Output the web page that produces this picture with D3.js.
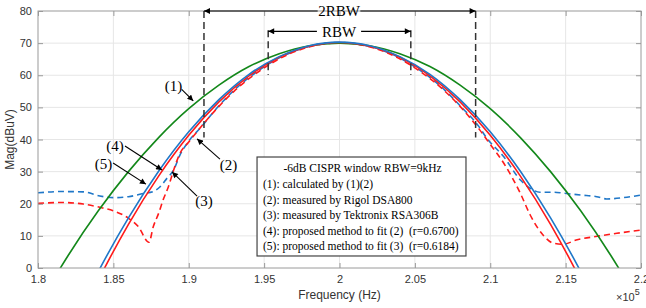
<!DOCTYPE html>
<meta charset="utf-8" />
<script src="https://cdn.jsdelivr.net/npm/d3@7"></script>
<html>
<head>
<style>
  body { margin: 0; background: #fff; }
  .tick text { font-family: "Liberation Sans", Arial, sans-serif; font-size: 11px; fill: #333; }
  .note { font-family: "Liberation Serif", "Times New Roman", serif; fill: #000; white-space: pre; }
</style>
</head>
<body>
<script>
// frequency axis in units of 1e5 Hz
const solidFreq = [1.80, 1.82, 1.84, 1.86, 1.88, 1.90, 1.92, 1.94, 1.96, 1.98, 2.00,
                   2.02, 2.04, 2.06, 2.08, 2.10, 2.12, 2.14, 2.16, 2.18, 2.20];
// (1) calculated
const calcMag = [-11.6, 3.9, 17.8, 30.0, 40.6, 49.6, 56.9, 62.7, 66.7, 69.2, 70.0,
                 69.2, 66.7, 62.7, 56.9, 49.6, 40.6, 30.0, 17.8, 3.9, -11.6];
// (4) fit to Rigol
const fitRigolMag = [-45.4, -23.4, -3.8, 13.6, 28.6, 41.3, 51.7, 59.8, 65.6, 69.0, 70.2,
                     69.0, 65.6, 59.8, 51.7, 41.3, 28.6, 13.6, -3.8, -23.4, -45.4];
// (5) fit to Tektronix
const fitTekMag = [-41.3, -20.1, -1.1, 15.6, 30.1, 42.4, 52.4, 60.3, 65.8, 69.2, 70.3,
                   69.2, 65.8, 60.3, 52.4, 42.4, 30.1, 15.6, -1.1, -20.1, -41.3];

// (2) measured, Rigol DSA800
const rigolFreq = [1.80, 1.815, 1.83, 1.841, 1.85, 1.86, 1.8665, 1.8736, 1.8765, 1.88, 1.883,
                   1.8865, 1.89, 1.894, 1.90, 1.91, 1.92, 1.93, 1.95, 1.97, 2.00, 2.03, 2.05,
                   2.07, 2.08, 2.093, 2.10, 2.109, 2.12, 2.1265, 2.135, 2.142, 2.1485, 2.157,
                   2.17, 2.184, 2.20];
const rigolMag = [20.1, 20.4, 19.9, 18.9, 17.8, 15.5, 12.9, 8.0, 12.9, 17.0, 21.2,
                  25.3, 30.5, 35.5, 39.2, 45.0, 50.3, 55.0, 62.3, 67.3, 70.1, 67.3, 62.3,
                  55.0, 50.3, 43.0, 38.5, 32.6, 23.2, 16.5, 10.3, 7.7, 7.4, 8.7,
                  9.8, 10.8, 11.8];

// (3) measured, Tektronix RSA306B
const tekFreq = [1.80, 1.815, 1.83, 1.841, 1.85, 1.86, 1.87, 1.8765, 1.881, 1.8855, 1.89,
                 1.894, 1.90, 1.9075, 1.92, 1.93, 1.95, 1.97, 2.00, 2.03, 2.05, 2.07, 2.08,
                 2.0925, 2.0976, 2.109, 2.12, 2.1265, 2.133, 2.142, 2.1485, 2.16, 2.1706,
                 2.1773, 2.1883, 2.20];
const tekMag = [23.4, 23.8, 23.7, 22.4, 21.9, 22.2, 23.2, 23.8, 25.3, 27.9, 30.5,
                35.0, 39.5, 43.5, 50.5, 55.3, 62.6, 67.5, 70.2, 67.5, 62.6, 55.3, 50.5,
                44.0, 40.5, 34.6, 27.4, 24.8, 23.6, 23.6, 23.3, 22.7, 22.2,
                21.5, 21.9, 22.7];

const xTicks = [1.8, 1.85, 1.9, 1.95, 2, 2.05, 2.1, 2.15, 2.2];
const yTicks = [0, 10, 20, 30, 40, 50, 60, 70, 80];

const legendTitle = "-6dB CISPR window RBW=9kHz";
const legendLines = [
  "(1): calculated by (1)(2)",
  "(2): measured by Rigol DSA800",
  "(3): measured by Tektronix RSA306B",
  "(4): proposed method to fit (2)  (r=0.6700)",
  "(5): proposed method to fit (3)  (r=0.6184)"
];

// callouts: label position and arrow [from f, from v, to f, to v] in data units
const callouts = [
  { t: "(1)", f: 1.8899, v: 56.7, a: [1.8953, 55.6, 1.9030, 52.0] },
  { t: "(4)", f: 1.8511, v: 38.0, a: [1.8577, 38.0, 1.8823, 30.5] },
  { t: "(5)", f: 1.8434, v: 32.4, a: [1.8498, 32.7, 1.8716, 26.1] },
  { t: "(3)", f: 1.9101, v: 20.9, a: [1.9055, 22.4, 1.8889, 29.9] },
  { t: "(2)", f: 1.9264, v: 32.1, a: [1.9207, 33.9, 1.9055, 40.2] }
];
// bandwidth markers: [left f, right f, top v, bottom v, label]
const bands = [
  [1.9101, 2.0903, 80, 40.6, "2RBW"],
  [1.9527, 2.0473, 74.0, 60.1, "RBW"]
];

const width = 646, height = 308;
const pLeft = 38, pRight = 641, pTop = 11, pBottom = 268;

const svg = d3.select("body").append("svg")
  .attr("width", width).attr("height", height);

const x = d3.scaleLinear().domain([1.8, 2.2]).range([pLeft, pRight]);
const y = d3.scaleLinear().domain([0, 80]).range([pBottom, pTop]);

const defs = svg.append("defs");
defs.append("clipPath").attr("id", "clip")
  .append("rect").attr("x", pLeft).attr("y", pTop)
  .attr("width", pRight - pLeft).attr("height", pBottom - pTop);

const arrow = defs.append("marker")
  .attr("id", "arr").attr("viewBox", "0 0 10 10")
  .attr("refX", 10).attr("refY", 5)
  .attr("markerWidth", 7).attr("markerHeight", 6)
  .attr("markerUnits", "userSpaceOnUse")
  .attr("orient", "auto");
arrow.append("path").attr("d", "M0,0L10,5L0,10Z").attr("fill", "#000");

// grid
svg.append("g").selectAll("line").data(xTicks.slice(1, -1)).enter().append("line")
  .attr("x1", d => x(d)).attr("x2", d => x(d)).attr("y1", pTop).attr("y2", pBottom)
  .attr("stroke", "#e6e6e6");
svg.append("g").selectAll("line").data(yTicks.slice(1, -1)).enter().append("line")
  .attr("y1", d => y(d)).attr("y2", d => y(d)).attr("x1", pLeft).attr("x2", pRight)
  .attr("stroke", "#e6e6e6");

// curves
const plot = svg.append("g").attr("clip-path", "url(#clip)");
const smooth = d3.line().x(d => x(d[0])).y(d => y(d[1])).curve(d3.curveNatural);
const meas = d3.line().x(d => x(d[0])).y(d => y(d[1])).curve(d3.curveMonotoneX);

const series = [
  { f: tekFreq, m: tekMag, c: "#1f77c8", dash: "6,4", line: meas },
  { f: rigolFreq, m: rigolMag, c: "#ff1a1a", dash: "6,4", line: meas },
  { f: solidFreq, m: calcMag, c: "#13881a", dash: null, line: smooth },
  { f: solidFreq, m: fitRigolMag, c: "#ff1a1a", dash: null, line: smooth },
  { f: solidFreq, m: fitTekMag, c: "#1f77c8", dash: null, line: smooth }
];
series.forEach(s => {
  plot.append("path")
    .attr("d", s.line(s.f.map((f, i) => [f, s.m[i]])))
    .attr("fill", "none").attr("stroke", s.c).attr("stroke-width", 1.6)
    .attr("stroke-dasharray", s.dash);
});

// axes box with inward ticks
const axisCol = "#9a9a9a";
svg.append("rect").attr("x", pLeft).attr("y", pTop)
  .attr("width", pRight - pLeft).attr("height", pBottom - pTop)
  .attr("fill", "none").attr("stroke", axisCol);

const xb = svg.append("g").attr("transform", `translate(0,${pBottom})`)
  .call(d3.axisBottom(x).tickValues(xTicks).tickFormat(d3.format("")).tickSizeInner(-5).tickSizeOuter(0).tickPadding(7));
const xt = svg.append("g").attr("transform", `translate(0,${pTop})`)
  .call(d3.axisTop(x).tickValues(xTicks).tickFormat("").tickSizeInner(-5).tickSizeOuter(0));
const yl = svg.append("g").attr("transform", `translate(${pLeft},0)`)
  .call(d3.axisLeft(y).tickValues(yTicks).tickSizeInner(-5).tickSizeOuter(0).tickPadding(6));
const yr = svg.append("g").attr("transform", `translate(${pRight},0)`)
  .call(d3.axisRight(y).tickValues(yTicks).tickFormat("").tickSizeInner(-5).tickSizeOuter(0));
[xb, xt, yl, yr].forEach(g => {
  g.select(".domain").remove();
  g.selectAll(".tick line").attr("stroke", axisCol);
  g.attr("font-family", null).attr("font-size", null);
});

svg.append("text")
  .attr("transform", `translate(14,${(pTop + pBottom) / 2}) rotate(-90)`)
  .attr("text-anchor", "middle")
  .style("font-family", "'Liberation Sans', Arial, sans-serif").style("font-size", "12px").style("fill", "#333")
  .text("Mag(dBuV)");
svg.append("text")
  .attr("x", x(2)).attr("y", 299).attr("text-anchor", "middle")
  .style("font-family", "'Liberation Sans', Arial, sans-serif").style("font-size", "12px").style("fill", "#333")
  .text("Frequency (Hz)");
const mult = svg.append("text").attr("x", 616).attr("y", 301)
  .style("font-family", "'Liberation Sans', Arial, sans-serif").style("font-size", "11px").style("fill", "#333");
mult.append("tspan").text("\u00d710");
mult.append("tspan").attr("dy", -6).style("font-size", "9px").text("5");

// bandwidth markers
bands.forEach(b => {
  const g = svg.append("g");
  [b[0], b[1]].forEach(f => {
    g.append("line").attr("x1", x(f)).attr("x2", x(f))
      .attr("y1", y(b[2])).attr("y2", y(b[3]))
      .attr("stroke", "#333").attr("stroke-width", 1.5).attr("stroke-dasharray", "7,4");
  });
  const yy = y(b[2]) + (b[4] === "RBW" ? 1 : 0);
  const mid = x(2) - 0.5;
  const t = g.append("text").attr("class", "note")
    .attr("x", mid).attr("y", yy).attr("dy", "0.35em")
    .attr("text-anchor", "middle").style("font-size", "15px").text(b[4]);
  const w = t.node().getComputedTextLength();
  const pad = b[4] === "RBW" ? 5 : 0.5;
  g.append("line").attr("x1", mid - w / 2 - pad).attr("x2", x(b[0]))
    .attr("y1", yy).attr("y2", yy).attr("stroke", "#000").attr("stroke-width", 1.2)
    .attr("marker-end", "url(#arr)");
  g.append("line").attr("x1", mid + w / 2 + pad).attr("x2", x(b[1]))
    .attr("y1", yy).attr("y2", yy).attr("stroke", "#000").attr("stroke-width", 1.2)
    .attr("marker-end", "url(#arr)");
});

// callouts
callouts.forEach(c => {
  svg.append("text").attr("class", "note")
    .attr("x", x(c.f)).attr("y", y(c.v)).attr("dy", "0.35em")
    .attr("text-anchor", "middle").style("font-size", "15px").text(c.t);
  svg.append("line")
    .attr("x1", x(c.a[0])).attr("y1", y(c.a[1]))
    .attr("x2", x(c.a[2])).attr("y2", y(c.a[3]))
    .attr("stroke", "#000").attr("stroke-width", 1.1)
    .attr("marker-end", "url(#arr)");
});

// legend box
const lx0 = x(1.9453), lx1 = x(2.0839), ly0 = y(34.55), ly1 = y(3.74);
svg.append("rect").attr("x", lx0).attr("y", ly0)
  .attr("width", lx1 - lx0).attr("height", ly1 - ly0)
  .attr("fill", "#fff").attr("stroke", "#444").attr("stroke-width", 1.2);
svg.append("text").attr("class", "note")
  .attr("x", (lx0 + lx1) / 2 + 1).attr("y", ly0 + 11).attr("dy", "0.35em")
  .attr("text-anchor", "middle").style("font-size", "11.5px").text(legendTitle);
svg.append("g").selectAll("text").data(legendLines).enter().append("text")
  .attr("class", "note")
  .attr("x", lx0 + 6).attr("y", (d, i) => ly0 + 27 + i * 15.5).attr("dy", "0.35em")
  .style("font-size", "11.5px").text(d => d.replace(/  /g, " \u00a0"));
</script>
</body>
</html>
